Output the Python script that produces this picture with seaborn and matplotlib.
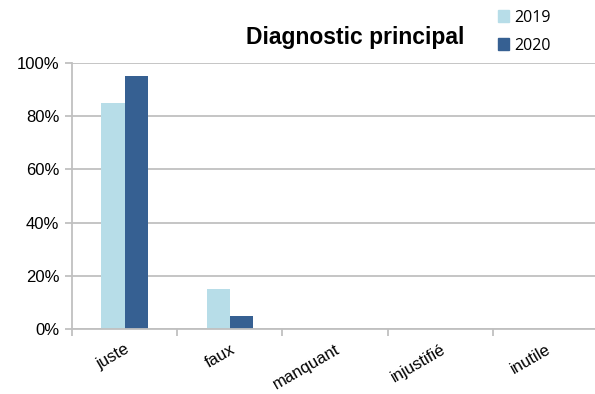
import pandas as pd
import numpy as np
import seaborn as sns
import matplotlib.pyplot as plt
from matplotlib.ticker import PercentFormatter, FixedLocator
from matplotlib.patches import Patch

categories = ['juste', 'faux', 'manquant', 'injustifié', 'inutile']
val_2019 = [85, 15, 0, 0, 0]
val_2020 = [95, 5, 0, 0, 0]
years = ['2019', '2020']
colors = ['#b7dde8', '#366092']

df = pd.DataFrame({
    'cat': categories * 2,
    'val': val_2019 + val_2020,
    'year': [years[0]] * len(categories) + [years[1]] * len(categories),
})

sns.set_style('white')
plt.rcParams['font.family'] = ['Liberation Sans', 'DejaVu Sans']
plt.rcParams['text.color'] = 'black'
plt.rcParams['xtick.color'] = 'black'
plt.rcParams['ytick.color'] = 'black'

fig = plt.figure(figsize=(5.95, 3.94), dpi=100)
ax = fig.add_axes([0.121, 0.165, 0.884, 0.675])

sns.barplot(data=df, x='cat', y='val', hue='year', order=categories,
            palette=colors, width=0.44, ax=ax,
            saturation=1, legend=False, linewidth=0)

ax.set_ylim(0, 100)
ax.set_xlim(-0.5, len(categories) - 0.5)
ax.set_yticks(np.arange(0, 101, 20))
ax.yaxis.set_major_formatter(PercentFormatter(decimals=0))
ax.grid(axis='y', color='#c0c0c0', linewidth=1.3)
ax.set_axisbelow(True)
for s in ['top', 'right']:
    ax.spines[s].set_visible(False)
for s in ['left', 'bottom']:
    ax.spines[s].set_color('#c0c0c0')
    ax.spines[s].set_linewidth(1.3)

ax.tick_params(axis='y', left=True, length=5, color='#c0c0c0', labelcolor='black',
               width=1.3, labelsize=12, pad=4)
ax.tick_params(axis='x', which='major', length=0, labelsize=12, pad=9,
               labelcolor='black')
ax.xaxis.set_minor_locator(FixedLocator(np.arange(-0.5, len(categories), 1)))
ax.tick_params(axis='x', which='minor', bottom=True, length=5,
               color='#c0c0c0', width=1.3)
for lbl in ax.get_xticklabels():
    lbl.set_rotation(30)
    lbl.set_ha('right')
    lbl.set_rotation_mode('anchor')

ax.set_xlabel('')
ax.set_ylabel('')

fig.text(0.597, 0.905, 'Diagnostic principal', ha='center', va='center',
         fontsize=16.5, fontweight='bold', color='black')

handles = [Patch(color=c) for c in colors]
fig.legend(handles, years, loc='upper left', bbox_to_anchor=(0.813, 1.012),
           frameon=False, handlelength=0.7, handleheight=0.7,
           handletextpad=0.3, labelspacing=0.75,
           prop={'family': 'Open Sans', 'size': 11.5}, labelcolor='black')

fig.savefig('out.png', dpi=100)
